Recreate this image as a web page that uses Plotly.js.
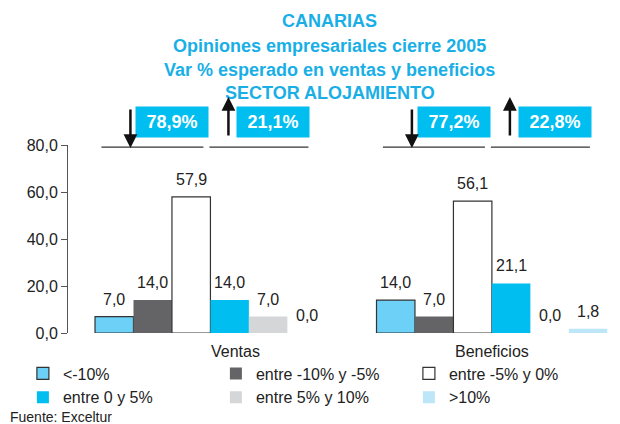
<!DOCTYPE html>
<html>
<head>
<meta charset="utf-8">
<script src="https://cdn.plot.ly/plotly-3.0.1.min.js"></script>
<style>html,body{margin:0;padding:0;background:#fff;}#chart{width:620px;height:424px;}</style>
</head>
<body>
<div id="chart"></div>
<script>
// ---- data ----
var categories = ["Ventas", "Beneficios"];
var seriesNames = ["<-10%", "entre -10% y -5%", "entre -5% y 0%", "entre 0 y 5%", "entre 5% y 10%", ">10%"];
var s1 = [7.0, 14.0];   // <-10%
var s2 = [14.0, 7.0];   // entre -10% y -5%
var s3 = [57.9, 56.1];  // entre -5% y 0%
var s4 = [14.0, 21.1];  // entre 0 y 5%
var s5 = [7.0, 0.0];    // entre 5% y 10%
var s6 = [0.0, 1.8];    // >10%
var downShare = [78.9, 77.2];
var upShare = [21.1, 22.8];
var titleLines = ["CANARIAS", "Opiniones empresariales cierre 2005", "Var % esperado en ventas y beneficios", "SECTOR ALOJAMIENTO"];
var source = "Fuente: Exceltur";

// ---- styles ----
var series = [s1, s2, s3, s4, s5, s6];
var colors = ["#6dd0f6", "#646466", "#ffffff", "#00bef0", "#d5d6d8", "#bde6f8"];
var borders = ["#333", null, "#333", null, null, null];
var FONT = "Liberation Sans, Arial, Helvetica, sans-serif";
var bargap = 0.18;
var slot = (1 - bargap) / series.length;

var traces = series.map(function (vals, i) {
  return {
    type: "bar",
    name: seriesNames[i],
    x: categories,
    y: vals,
    marker: {color: colors[i], line: {color: borders[i] || colors[i], width: borders[i] ? 1.2 : 0}},
    hoverinfo: "y"
  };
});

var fmt = function (v, d) { return v.toFixed(d).replace(".", ","); };
var ann = [];
// bar value labels
series.forEach(function (vals, i) {
  vals.forEach(function (v, c) {
    ann.push({x: c + (i - (series.length - 1) / 2) * slot, y: v, xref: "x", yref: "y",
      text: fmt(v, 1), showarrow: false, yanchor: "bottom", yshift: 7,
      font: {family: FONT, size: 16, color: "#222"}});
  });
});
// category labels
var catShift = [25, 0];
categories.forEach(function (c, i) {
  ann.push({x: i, y: 0, xref: "x", yref: "y", text: c, showarrow: false, yanchor: "top",
    yshift: -8, xshift: catShift[i], font: {family: FONT, size: 16, color: "#222"}});
});
// title
var titleY = [1.660, 1.527, 1.399, 1.277];
titleLines.forEach(function (t, i) {
  ann.push({x: 0.476, y: titleY[i], xref: "paper", yref: "paper", text: t, showarrow: false,
    yanchor: "middle", font: {family: FONT, size: 18, color: "#19afe6", weight: "bold"}});
});
// share boxes and arrows
var shapes = [];
categories.forEach(function (c, i) {
  ann.push({x: i, y: 1.122, xref: "x", yref: "paper", xshift: -38, text: fmt(downShare[i], 1) + "%",
    showarrow: false, bgcolor: "#00bef0", width: 70, height: 28, yanchor: "middle",
    font: {family: FONT, size: 18, color: "#ffffff", weight: "bold"}});
  ann.push({x: i, y: 1.122, xref: "x", yref: "paper", xshift: 63, text: fmt(upShare[i], 1) + "%",
    showarrow: false, bgcolor: "#00bef0", width: 70, height: 28, yanchor: "middle",
    font: {family: FONT, size: 18, color: "#ffffff", weight: "bold"}});
  ann.push({x: i, y: 0.984, xref: "x", yref: "paper", xshift: -80, text: "", showarrow: true,
    ax: 0, ay: -40, arrowhead: 2, arrowsize: 1.1, arrowwidth: 2.5, arrowcolor: "#111"});
  ann.push({x: i, y: 1.255, xref: "x", yref: "paper", xshift: 18, text: "", showarrow: true,
    ax: 0, ay: 40, arrowhead: 2, arrowsize: 1.1, arrowwidth: 2.5, arrowcolor: "#111"});
  shapes.push({type: "line", xref: "x", yref: "paper", xsizemode: "pixel", xanchor: i,
    x0: -109, x1: -7, y0: 0.989, y1: 0.989, line: {color: "#333", width: 1.2}});
  shapes.push({type: "line", xref: "x", yref: "paper", xsizemode: "pixel", xanchor: i,
    x0: -1, x1: 98, y0: 0.989, y1: 0.989, line: {color: "#333", width: 1.2}});
});
ann.push({x: -0.109, y: -0.447, xref: "paper", yref: "paper", text: source, showarrow: false,
  xanchor: "left", yanchor: "middle", font: {family: FONT, size: 14, color: "#222"}});

var layout = {
  width: 620, height: 424,
  margin: {l: 68, r: 2, t: 145, b: 91, autoexpand: false},
  paper_bgcolor: "#fff", plot_bgcolor: "#fff",
  barmode: "group", bargap: bargap, bargroupgap: 0,
  separators: ",.",
  font: {family: FONT, size: 16, color: "#222"},
  xaxis: {type: "category", range: [-0.506, 1.448], showticklabels: false, showline: false,
    showgrid: false, zeroline: false, ticks: "", fixedrange: true},
  yaxis: {range: [0, 80], dtick: 20, tickformat: ".1f", showline: true, linecolor: "#555",
    linewidth: 1, ticks: "outside", ticklen: 6, tickcolor: "#555", showgrid: false, zeroline: false,
    tickfont: {family: FONT, size: 16, color: "#222"}},
  legend: {orientation: "h", x: -0.082, y: -0.125, xanchor: "left", yanchor: "top",
    entrywidth: 148, entrywidthmode: "pixels", font: {family: FONT, size: 16, color: "#222"},
    traceorder: "normal", itemclick: false},
  showlegend: true,
  annotations: ann,
  shapes: shapes
};

Plotly.newPlot("chart", traces, layout, {displayModeBar: false, staticPlot: true});
</script>
</body>
</html>
